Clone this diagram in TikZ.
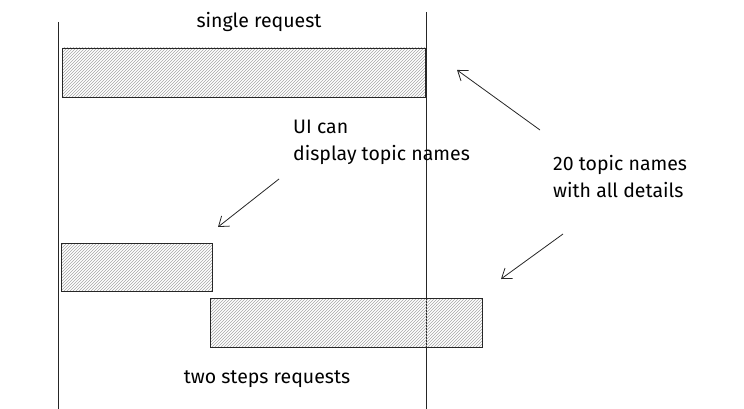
\documentclass[tikz,border=0pt]{standalone}
\usepackage{fontspec}
\setmainfont{Fira Sans}
\usetikzlibrary{positioning, arrows.meta, patterns}

\begin{document}
\begin{tikzpicture}[
	every bar/.style={draw=black!85, line width=0.9pt, pattern=north east lines, pattern color=black!35, inner sep=0pt, outer sep=0pt, anchor=north west},
	every note/.style={font=\fontsize{19.5}{27}\selectfont, align=left, inner sep=0pt},
	pointer/.style={draw=black!85, line width=0.8pt, -{Straight Barb[length=9pt, width=13pt]}},
	x=1pt,
	y=-1pt
]

\useasboundingbox (0,0) rectangle (744,409);

\foreach \n/\x/\t in {left/58/22, right/426/12}
	\draw [black!85, line width=1pt] (\x,\t) coordinate (\n-top) -- (\x,409) coordinate (\n-bottom);

\node [every bar, minimum width=363, minimum height=49] (single) at (62,48) {};
\node [every bar, minimum width=151, minimum height=48] (step-1) at (61,243) {};
\node [every bar, minimum width=272, minimum height=49] (step-2) at (210,298) {};

\node [every note, anchor=base] (single-text) at (259,28) {single request};
\node [every note, anchor=base] (steps-text) at (267,383) {two steps requests};
\node [every note, anchor=north west] (ui-text) at (293,120) {UI can\\display topic names};
\node [every note, anchor=north west] (topics-text) at (553,155) {20 topic names\\with all details};

\foreach \n/\a/\b in {1/540/130, 2/279/179, 3/563/234}
	\coordinate (from-\n) at (\a,\b);

\foreach \n/\a/\b in {1/457/70, 2/218/227, 3/501/279}
	\coordinate (to-\n) at (\a,\b);

\foreach \n in {1, 2, 3}
	\draw [pointer] (from-\n) -- (to-\n);

\end{tikzpicture}
\end{document}
